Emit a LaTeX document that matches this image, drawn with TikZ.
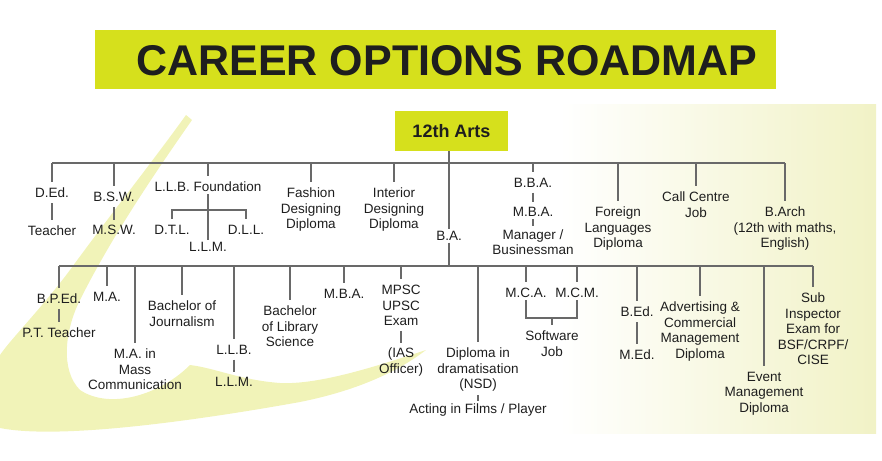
\documentclass[tikz,border=0pt]{standalone}
\usepackage{fontspec}
\setmainfont{Liberation Sans}
\usepackage{tikz}
\usetikzlibrary{positioning}
\definecolor{yellowi}{RGB}{214,224,28}
\definecolor{yellowii}{RGB}{241,243,184}
\definecolor{yellowiii}{RGB}{241,242,198}
\definecolor{grayi}{RGB}{105,105,105}
\definecolor{grayii}{RGB}{30,30,30}
\tikzset{
      mytitleblock/.style={
        inner sep=0pt,
        text=grayii,
        font=\bfseries\fontsize{43}{43}\selectfont
      },
      myartsblock/.style={
        fill=yellowi,
        inner sep=0pt,
        minimum width=113pt,
        minimum height=40pt,
        text=grayii,
        font=\bfseries\fontsize{18}{18}\selectfont
      },
      myitem/.style={
        align=center,
        inner xsep=1pt,
        inner ysep=2pt,
        text=grayii,
        font=\fontsize{13.5}{15.5}\selectfont
      },
      mybus/.style={
        draw=grayi,
        line width=1.3pt
      },
      mystem/.style={
        mybus,
        shorten >=4.5pt
      },
      mylink/.style={
        mybus,
        shorten <=3pt,
        shorten >=3pt
      },
    }

\begin{document}
\begin{tikzpicture}[x=1pt,y=-1pt]
            \useasboundingbox (0,0) rectangle (882,460);

            %Fons
            \shade[left color=white, right color=yellowiii] (560,104) rectangle (876,433);
            \fill[yellowii] (186,115)
              .. controls (150,165) and (110,215) .. (70,270)
              .. controls (40,310) and (10,340) .. (0,355)
              -- (0,428)
              .. controls (60,440) and (200,420) .. (300,402)
              .. controls (360,390) and (400,370) .. (426,350)
              .. controls (380,365) and (320,385) .. (280,383)
              .. controls (240,380) and (215,368) .. (190,365)
              .. controls (160,395) and (110,410) .. (80,390)
              .. controls (60,370) and (65,330) .. (80,300)
              .. controls (110,240) and (150,180) .. (192,120)
              -- cycle;

            %Titol
            \node[fill=yellowi, inner sep=0pt, minimum width=681pt, minimum height=59pt]
              (banner) at (435.5,59.5)
              {};
            \node[mytitleblock]
              (title) at (447,61)
              {CAREER OPTIONS ROADMAP};
            \node[myartsblock]
              (arts) at (451.5,131)
              {12th Arts};

            \coordinate (topbus) at (0,163);
            \coordinate (lowbus) at (0,266);

            %Primer nivell
            \node[myitem, anchor=north]
              (ded) at (52,186)
              {D.Ed.};
            \node[myitem, below=23pt of ded]
              (teacher)
              {Teacher};
            \node[myitem, anchor=north]
              (bsw) at (114,190)
              {B.S.W.};
            \node[myitem, below=19pt of bsw]
              (msw)
              {M.S.W.};
            \node[myitem, anchor=north]
              (llbf) at (208,180)
              {L.L.B. Foundation};
            \node[myitem, anchor=north]
              (dtl) at (172,223)
              {D.T.L.};
            \node[myitem, anchor=north]
              (dll) at (246,223)
              {D.L.L.};
            \node[myitem, below=46pt of llbf]
              (llmf)
              {L.L.M.};
            \coordinate (llbfj) at (208,210);
            \node[myitem, anchor=north]
              (fashion) at (311,186)
              {Fashion\\Designing\\Diploma};
            \node[myitem, anchor=north]
              (interior) at (394,186)
              {Interior\\Designing\\Diploma};
            \node[myitem, anchor=north]
              (ba) at (449,229)
              {B.A.};
            \node[myitem, anchor=north]
              (bba) at (533,176)
              {B.B.A.};
            \node[myitem, below=15pt of bba]
              (mbai)
              {M.B.A.};
            \node[myitem, below=9pt of mbai]
              (manager)
              {Manager /\\Businessman};
            \node[myitem, anchor=north]
              (foreign) at (618,205)
              {Foreign\\Languages\\Diploma};
            \node[myitem, anchor=north]
              (callc) at (696,190)
              {Call Centre\\Job};
            \node[myitem, anchor=north]
              (barch) at (785,205)
              {B.Arch\\(12th with maths,\\English)};

            %Segon nivell
            \node[myitem, anchor=north]
              (bped) at (59,292)
              {B.P.Ed.};
            \node[myitem, below=19pt of bped]
              (ptteacher)
              {P.T. Teacher};
            \node[myitem, anchor=north]
              (ma) at (107,290)
              {M.A.};
            \node[myitem, anchor=north]
              (mamass) at (135,347)
              {M.A. in\\Mass\\Communication};
            \node[myitem, anchor=north]
              (journ) at (182,299)
              {Bachelor of\\Journalism};
            \node[myitem, anchor=north]
              (llbii) at (234,343)
              {L.L.B.};
            \node[myitem, below=18pt of llbii]
              (llmii)
              {L.L.M.};
            \node[myitem, anchor=north]
              (library) at (290,304)
              {Bachelor\\of Library\\Science};
            \node[myitem, anchor=north]
              (mbaii) at (344,287)
              {M.B.A.};
            \node[myitem, anchor=north]
              (mpsc) at (401,283)
              {MPSC\\UPSC\\Exam};
            \node[myitem, below=18pt of mpsc]
              (ias)
              {(IAS\\Officer)};
            \node[myitem, anchor=north]
              (nsd) at (478,346)
              {Diploma in\\dramatisation\\(NSD)};
            \node[myitem, below=8pt of nsd]
              (acting)
              {Acting in Films / Player};
            \node[myitem, anchor=north]
              (mca) at (526,286)
              {M.C.A.};
            \node[myitem, anchor=north]
              (mcm) at (577,286)
              {M.C.M.};
            \coordinate (swj) at (552,318);
            \node[myitem, anchor=north]
              (software) at (552,329)
              {Software\\Job};
            \node[myitem, anchor=north]
              (bed) at (637,305)
              {B.Ed.};
            \node[myitem, below=28pt of bed]
              (med)
              {M.Ed.};
            \node[myitem, anchor=north]
              (advert) at (700,300)
              {Advertising \&\\Commercial\\Management\\Diploma};
            \node[myitem, anchor=north]
              (event) at (764,370)
              {Event\\Management\\Diploma};
            \node[myitem, anchor=north]
              (subinsp) at (813,291)
              {Sub\\Inspector\\Exam for\\BSF/CRPF/\\CISE};

            %Linies
            \draw [mybus] (ded.north |- topbus) -- (barch.north |- topbus);
            \draw [mybus] (bped.north |- lowbus) -- (subinsp.north |- lowbus);
            \draw [mybus] (ba.north |- arts.south) -- (ba.north);
            \draw [mybus] (ba.south) -- (ba.south |- lowbus);
            \draw [mystem] (ded.north |- topbus) edge[mystem] (ded.north)
              (bsw.north |- topbus) edge[mystem] (bsw.north)
              (llbf.north |- topbus) edge[mystem] (llbf.north)
              (fashion.north |- topbus) edge[mystem] (fashion.north)
              (interior.north |- topbus) edge[mystem] (interior.north)
              (bba.north |- topbus) edge[mystem] (bba.north)
              (foreign.north |- topbus) edge[mystem] (foreign.north)
              (callc.north |- topbus) edge[mystem] (callc.north)
              (barch.north |- topbus) edge[mystem] (barch.north);
            \draw [mystem] (bped.north |- lowbus) edge[mystem] (bped.north)
              (ma.north |- lowbus) edge[mystem] (ma.north)
              (mamass.north |- lowbus) edge[mystem] (mamass.north)
              (journ.north |- lowbus) edge[mystem] (journ.north)
              (llbii.north |- lowbus) edge[mystem] (llbii.north)
              (library.north |- lowbus) edge[mystem] (library.north)
              (mbaii.north |- lowbus) edge[mystem] (mbaii.north)
              (mpsc.north |- lowbus) edge[mystem] (mpsc.north)
              (nsd.north |- lowbus) edge[mystem] (nsd.north)
              (mca.north |- lowbus) edge[mystem] (mca.north)
              (mcm.north |- lowbus) edge[mystem] (mcm.north)
              (bed.north |- lowbus) edge[mystem] (bed.north)
              (advert.north |- lowbus) edge[mystem] (advert.north)
              (event.north |- lowbus) edge[mystem] (event.north)
              (subinsp.north |- lowbus) edge[mystem] (subinsp.north);
            \draw [mylink] (ded) edge[mylink] (teacher)
              (bsw) edge[mylink] (msw)
              (bba) edge[mylink] (mbai)
              (mbai) edge[mylink, shorten <=1pt, shorten >=1pt] (manager)
              (bped) edge[mylink] (ptteacher)
              (llbii) edge[mylink] (llmii)
              (mpsc) edge[mylink] (ias)
              (nsd) edge[mylink, shorten <=1pt, shorten >=1pt] (acting)
              (bed) edge[mylink] (med);
            \draw [mybus] (llbf.south) -- (llmf.north);
            \draw [mybus, shorten <=4pt, shorten >=4pt] (dtl.north) |- (llbfj) -| (dll.north);
            \draw [mybus] (mca.south) |- (swj) -| (mcm.south);
            \draw [mybus, shorten >=4pt] (swj) -- (software.north);

          \end{tikzpicture}
\end{document}
